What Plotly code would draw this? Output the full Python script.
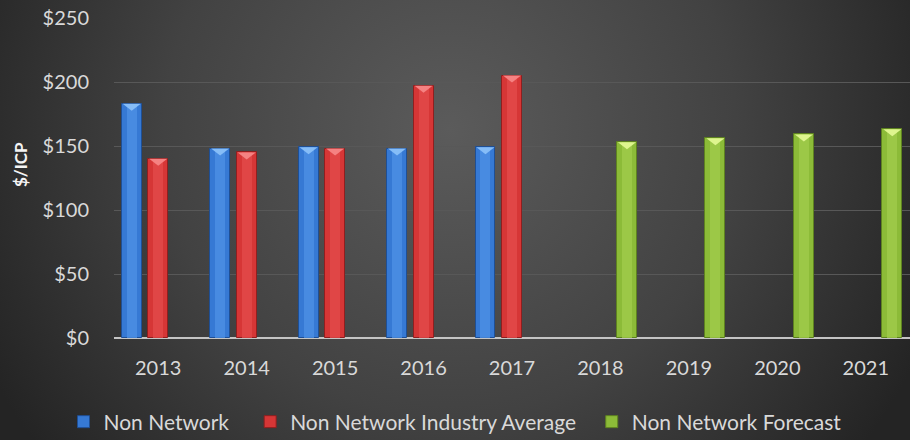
import base64
import plotly.graph_objects as go

# ---- data -------------------------------------------------------------
years = ["2013", "2014", "2015", "2016", "2017", "2018", "2019", "2020", "2021"]
non_network = [183, 148, 149, 148, 149, None, None, None, None]
industry_avg = [140, 145, 148, 197, 205, None, None, None, None]
forecast = [None, None, None, None, None, 153, 156, 159, 163]

y_ticks = [0, 50, 100, 150, 200, 250]
y_tick_labels = ["$0", "$50", "$100", "$150", "$200", "$250"]

series_names = ["Non Network", "Non Network Industry Average", "Non Network Forecast"]
series_values = [non_network, industry_avg, forecast]

# ---- styling ----------------------------------------------------------
W, H = 910, 440
M_L, M_R, M_T, M_B = 114, 0, 18, 102
Y_MAX = 250

base_cols = ["#3679d4", "#d63636", "#8cbb38"]
edge_cols = ["#1f4f94", "#8f1f1f", "#5e8220"]
shine_cols = ["#4f92e6", "#e44c4c", "#a2cd4c"]
tip_cols = ["#86bdf7", "#f58282", "#def58e"]

slot_offsets = [-0.30, 0.0, 0.30]
bar_w = 0.225
text_col = "#d9d9d9"
font_family = "Lato, 'Open Sans', sans-serif"

# extra room after the first two legend entries
NB = "\u00a0"
legend_labels = [series_names[0] + NB * 3, series_names[1] + NB * 2, series_names[2]]

x_idx = list(range(len(years)))
plot_h_px = H - M_T - M_B
units_per_px = Y_MAX / plot_h_px

fig = go.Figure()
shapes = []

for k, (name, vals) in enumerate(zip(series_names, series_values)):
    centers = [i + slot_offsets[k] for i in x_idx]
    # main body of the bar
    fig.add_trace(go.Bar(
        x=centers, y=vals, name=legend_labels[k], width=bar_w,
        marker=dict(color=base_cols[k], line=dict(color=edge_cols[k], width=1)),
        hovertemplate="%{y}<extra>" + name + "</extra>",
    ))
    # lighter centre strip for a rounded look
    fig.add_trace(go.Bar(
        x=centers, y=vals, width=bar_w * 0.5, showlegend=False,
        marker=dict(color=shine_cols[k], line=dict(width=0)),
        opacity=0.75, hoverinfo="skip",
    ))
    # bevelled top as a small downward triangle
    tip_h = 7 * units_per_px
    for c, v in zip(centers, vals):
        if v is None:
            continue
        half = bar_w / 2 - 0.01
        shapes.append(dict(
            type="path", xref="x", yref="y", layer="above",
            path=f"M {c - half},{v} L {c + half},{v} L {c},{v - tip_h} Z",
            fillcolor=tip_cols[k], line=dict(width=0),
        ))

# radial dark-grey backdrop
svg = f"""<svg xmlns='http://www.w3.org/2000/svg' width='{W}' height='{H}'>
<defs><radialGradient id='g' gradientUnits='userSpaceOnUse' cx='450' cy='130' r='520'>
<stop offset='0' stop-color='#5b5b5b'/><stop offset='0.55' stop-color='#424242'/>
<stop offset='1' stop-color='#242424'/></radialGradient></defs>
<rect width='{W}' height='{H}' fill='url(#g)'/></svg>"""
bg_src = "data:image/svg+xml;base64," + base64.b64encode(svg.encode()).decode()
plot_w_px = W - M_L - M_R

fig.update_layout(
    width=W, height=H,
    margin=dict(l=M_L, r=M_R, t=M_T, b=M_B, pad=0),
    barmode="overlay",
    paper_bgcolor="#2c2c2c",
    plot_bgcolor="rgba(0,0,0,0)",
    font=dict(family=font_family, color=text_col, size=20),
    images=[dict(
        source=bg_src, xref="paper", yref="paper",
        x=-M_L / plot_w_px, y=1 + M_T / plot_h_px,
        sizex=W / plot_w_px, sizey=H / plot_h_px,
        xanchor="left", yanchor="top", sizing="stretch", layer="below",
    )],
    shapes=shapes,
    xaxis=dict(
        range=[-0.5, len(years) - 0.5], tickmode="array",
        tickvals=x_idx, ticktext=years, showgrid=False, zeroline=False,
        ticks="", ticklabelstandoff=16, tickfont=dict(size=20, color=text_col),
        showline=False,
    ),
    yaxis=dict(
        range=[0, Y_MAX], tickmode="array", tickvals=y_ticks, ticktext=y_tick_labels,
        showgrid=True, gridcolor="#585858", gridwidth=1,
        zeroline=True, zerolinecolor="#c4c4c4", zerolinewidth=2,
        ticks="", ticklabelstandoff=24, tickfont=dict(size=20, color=text_col),
    ),
    legend=dict(
        orientation="h", xref="container", yref="container",
        x=0.5, xanchor="center", y=18 / H, yanchor="middle",
        font=dict(size=21, color=text_col), bgcolor="rgba(0,0,0,0)",
        traceorder="normal",
    ),
    annotations=[dict(
        text="<b>$/ICP</b>", textangle=-90, showarrow=False,
        xref="paper", yref="paper",
        x=(20 - M_L) / plot_w_px, y=(H - M_B - 165) / plot_h_px,
        xanchor="center", yanchor="middle",
        font=dict(size=17, color="#f4f4f4", family=font_family),
    )],
    bargap=0,
)

fig.write_html("out.html")
